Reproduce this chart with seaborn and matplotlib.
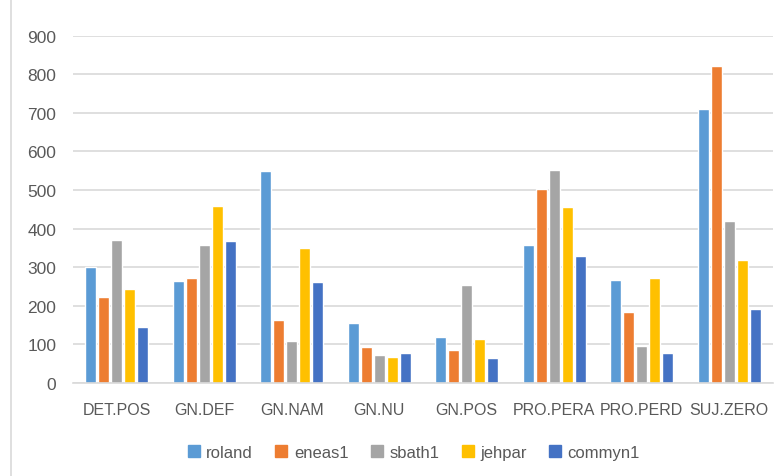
import pandas as pd
import seaborn as sns
import matplotlib.pyplot as plt
from matplotlib.lines import Line2D

# catégories et valeurs
categories = ["DET.POS", "GN.DEF", "GN.NAM", "GN.NU", "GN.POS", "PRO.PERA", "PRO.PERD", "SUJ.ZERO"]
roland = [300, 265, 550, 156, 118, 357, 268, 709]
eneas1 = [223, 271, 162, 94, 86, 502, 184, 822]
sbath1 = [371, 358, 110, 72, 255, 553, 97, 420]
jehpar = [244, 458, 349, 67, 113, 455, 271, 320]
commyn1 = [146, 369, 262, 78, 64, 328, 78, 192]

series = {"roland": roland, "eneas1": eneas1, "sbath1": sbath1,
          "jehpar": jehpar, "commyn1": commyn1}
colors = ["#5B9BD5", "#ED7D31", "#A5A5A5", "#FFC000", "#4472C4"]

rows = []
for name, vals in series.items():
    for cat, v in zip(categories, vals):
        rows.append({"categorie": cat, "texte": name, "valeur": v})
df = pd.DataFrame(rows)

sns.set_style("white")
plt.rcParams["font.family"] = ["Liberation Sans", "DejaVu Sans"]
txt = "#595959"

fig = plt.figure(figsize=(7.83, 4.77), dpi=100)
ax = fig.add_axes([73 / 783, 93 / 477, 700 / 783, 347.3 / 477])

sns.barplot(data=df, x="categorie", y="valeur", hue="texte", palette=colors,
            width=0.74, gap=0.15, ax=ax, legend=False, saturation=1)

ax.set_ylim(0, 900)
ax.set_yticks(range(0, 901, 100))
ax.yaxis.grid(True, color="#d9d9d9", linewidth=1.2)
ax.set_axisbelow(True)
for s in ["top", "right", "left"]:
    ax.spines[s].set_visible(False)
ax.spines["bottom"].set_color("#d9d9d9")
ax.spines["bottom"].set_linewidth(1.2)
ax.tick_params(axis="y", length=0, pad=12, labelsize=12.5, labelcolor=txt)
ax.tick_params(axis="x", length=0, pad=14, labelsize=11.5, labelcolor=txt)
ax.set_xlabel("")
ax.set_ylabel("")

handles = [Line2D([0], [0], marker="s", linestyle="", markersize=8,
                  markerfacecolor=c, markeredgecolor=c) for c in colors]
fig.legend(handles, list(series.keys()), loc="center", bbox_to_anchor=(0.527, 0.05),
           ncol=5, frameon=False, fontsize=12, labelcolor=txt,
           handletextpad=0.25, columnspacing=1.2, handlelength=1.0)

# bord de la zone du graphique
fig.add_artist(Line2D([11 / 783, 11 / 783], [0, 1], color="#d9d9d9", linewidth=1.2))

fig.savefig("out.png", dpi=100)
